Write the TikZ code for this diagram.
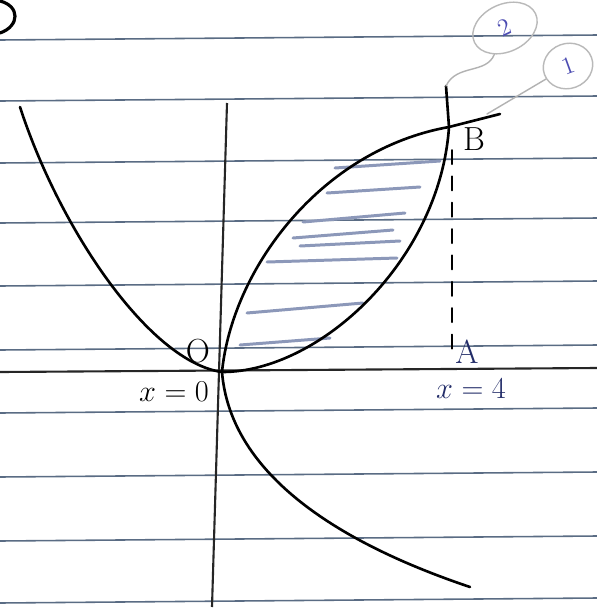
\documentclass[tikz,border=0pt]{standalone}
\usepackage{amsmath}
\usetikzlibrary{shapes.geometric,positioning}

\definecolor{ruleink}{RGB}{90,108,132}
\definecolor{hatchink}{RGB}{140,152,185}
\definecolor{penink}{RGB}{35,45,105}

\begin{document}
\begin{tikzpicture}[
      x=0.02cm, y=-0.02cm,               % one unit = one pixel of the sheet
      ruling/.style={draw=ruleink, line width=0.9pt},
      axis/.style={draw=black!85, line width=1.2pt},
      curve/.style={draw=black, line width=1.5pt, line cap=round},
      hatch/.style={draw=hatchink, line width=1.7pt, line cap=round},
      pencil/.style={draw=gray!60, line width=0.8pt, line cap=round},
      label/.style={font=\fontsize{19}{21}\selectfont, inner sep=1pt},
      inklabel/.style={label, text=penink},
      eqlabel/.style={font=\fontsize{17}{19}\selectfont, inner sep=1pt},
      tag/.style={
          ellipse,
          draw=gray!55,
          line width=0.8pt,
          text=gray!60!blue,
          inner sep=0pt,
          font=\fontsize{14}{16}\selectfont
      }
  ]
      \useasboundingbox (0,0) rectangle (597,613);
      \fill[white] (0,0) rectangle (597,613);

      % Ruled paper
      \foreach \y in {40,101,163,223,286,350,413,477,541,603}
          \draw[ruling] (0,\y) -- (597,\y-5);

      % Axes
      \draw[axis] (0,372) -- (597,368);
      \draw[axis] (227,103) -- (212,607);

      % Points
      \coordinate (O) at (222,372);
      \coordinate (B) at (449,127);
      \coordinate (A) at (452,360);
      \coordinate (end1) at (500,114);
      \coordinate (end2) at (446,86);

      % Shading between the curves
      \draw[hatch] (335,168) -- (440,161);
      \draw[hatch] (327,193) -- (420,187);
      \draw[hatch] (303,222) -- (405,213);
      \draw[hatch] (293,238) -- (393,230);
      \draw[hatch] (300,246) -- (400,241);
      \draw[hatch] (267,262) -- (397,258);
      \draw[hatch] (247,313) -- (363,303);
      \draw[hatch] (240,345) -- (330,338);

      % x^2 = 4y
      \draw[curve] (20,107) .. controls (60,230) and (150,362) .. (O)
          .. controls (320,372) and (440,260) .. (B) -- (end2);

      % y^2 = 4x
      \draw[curve] (470,587) .. controls (330,540) and (230,470) .. (O)
          .. controls (232,270) and (320,150) .. (B) -- (end1);

      % Ordinate at x = 4
      \draw[curve, line width=1.1pt, dash pattern=on 8pt off 7pt] (452,150) -- (A);

      % Labels
      \node (labO) [label] at (198,351) {O};
      \node (labB) [label] at (474,139) {B};
      \node (labA) [inklabel] at (467,352) {A};
      \node (lab0) [eqlabel] at (174,392) {$x=0$};
      \node (lab4) [eqlabel, text=penink] at (471,389) {$x= 4$};

      % Curve tags
      \node (tag2) [tag, minimum width=1.35cm, minimum height=0.95cm, rotate=25] at (505,28) {2};
      \node (tag1) [tag, minimum width=1cm, minimum height=0.9cm, rotate=20] at (568,66) {1};
      \draw[pencil] (end2) to[out=65, in=235] (tag2);
      \draw[pencil] (487,114) -- (tag1);

      % Corner of a circled number
      \draw[curve, line width=1.8pt] (0,1) .. controls (20,6) and (20,26) .. (0,33);
  \end{tikzpicture}
\end{document}
